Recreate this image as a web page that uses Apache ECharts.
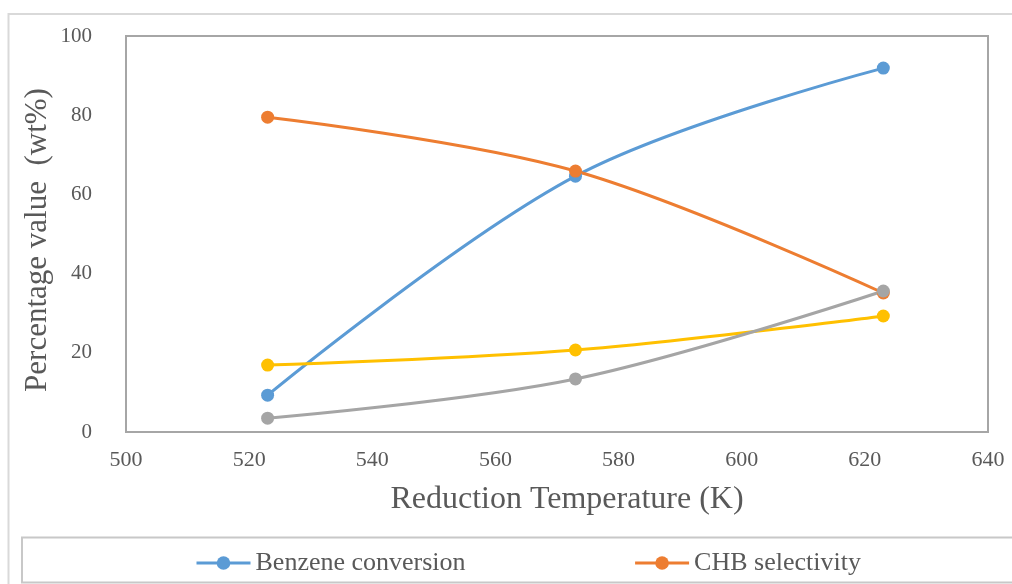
<!DOCTYPE html>
<html>
<head>
<meta charset="utf-8">
<script src="https://cdn.jsdelivr.net/npm/echarts@6/dist/echarts.min.js"></script>
<style>html,body{margin:0;padding:0;background:#fff}#c{width:1012px;height:584px}</style>
</head>
<body>
<div id="c"></div>
<script>
var temperatures = [523, 573, 623];
var benzeneConversion = [9.3, 64.6, 91.9];
var chbSelectivity = [79.5, 65.9, 35.1];
var series3 = [16.9, 20.7, 29.3];
var series4 = [3.5, 13.4, 35.6];
var xTicks = [500, 520, 540, 560, 580, 600, 620, 640];
var yTicks = [0, 20, 40, 60, 80, 100];

function pairs(vals){ return temperatures.map(function(t,i){ return [t, vals[i]]; }); }

var chart = echarts.init(document.getElementById('c'));
var font = 'Liberation Serif';
function mk(name, data, color){
  return {
    name: name, type: 'line', data: pairs(data), smooth: 0.35,
    symbol: 'circle', symbolSize: 13,
    lineStyle: {color: color, width: 3},
    itemStyle: {color: color},
    emphasis: {disabled: true}, z: 3
  };
}
chart.setOption({
  animation: false,
  backgroundColor: '#fff',
  graphic: [
    {type: 'rect', shape: {x: 8.5, y: 14, width: 1100, height: 700}, style: {fill: 'none', stroke: '#d9d9d9', lineWidth: 2}, z: -10},
    {type: 'rect', shape: {x: 22, y: 537.5, width: 1100, height: 45}, style: {fill: 'none', stroke: '#c8c8c8', lineWidth: 2}, z: -10}
  ],
  grid: {left: 126, right: 24, top: 36, bottom: 152, show: true, borderColor: '#a6a6a6', borderWidth: 2, containLabel: false},
  legend: {
    data: ['Benzene conversion', 'CHB selectivity'],
    left: 190, top: 545, itemGap: 168, itemWidth: 54, itemHeight: 17,
    lineStyle: {width: 3},
    textStyle: {fontFamily: font, fontSize: 26, color: '#595959'}
  },
  xAxis: {
    type: 'value', min: 500, max: 640, interval: 20,
    name: 'Reduction Temperature (K)', nameLocation: 'middle', nameGap: 52,
    nameMoveOverlap: false,
    nameTextStyle: {fontFamily: font, fontSize: 32, color: '#595959', padding: [0, 0, 0, 20]},
    axisLine: {show: true, lineStyle: {color: '#a6a6a6', width: 2}},
    axisTick: {show: false}, splitLine: {show: false},
    axisLabel: {fontFamily: font, fontSize: 22, color: '#595959', margin: 17,
      formatter: function(v){ return xTicks.indexOf(v) >= 0 ? String(v) : ''; }}
  },
  yAxis: {
    type: 'value', min: 0, max: 100, interval: 20,
    name: 'Percentage value  (wt%)', nameLocation: 'middle', nameGap: 73,
    nameMoveOverlap: false,
    nameTextStyle: {fontFamily: font, fontSize: 31, color: '#595959', padding: [0, 12, 0, 0]},
    axisLine: {show: true, lineStyle: {color: '#a6a6a6', width: 2}},
    axisTick: {show: false}, splitLine: {show: false},
    axisLabel: {fontFamily: font, fontSize: 21, color: '#595959', margin: 34,
      formatter: function(v){ return yTicks.indexOf(v) >= 0 ? String(v) : ''; }}
  },
  series: [
    mk('Benzene conversion', benzeneConversion, '#5b9bd5'),
    mk('CHB selectivity', chbSelectivity, '#ed7d31'),
    mk('Series 3', series3, '#ffc000'),
    mk('Series 4', series4, '#a5a5a5')
  ]
});
</script>
</body>
</html>
